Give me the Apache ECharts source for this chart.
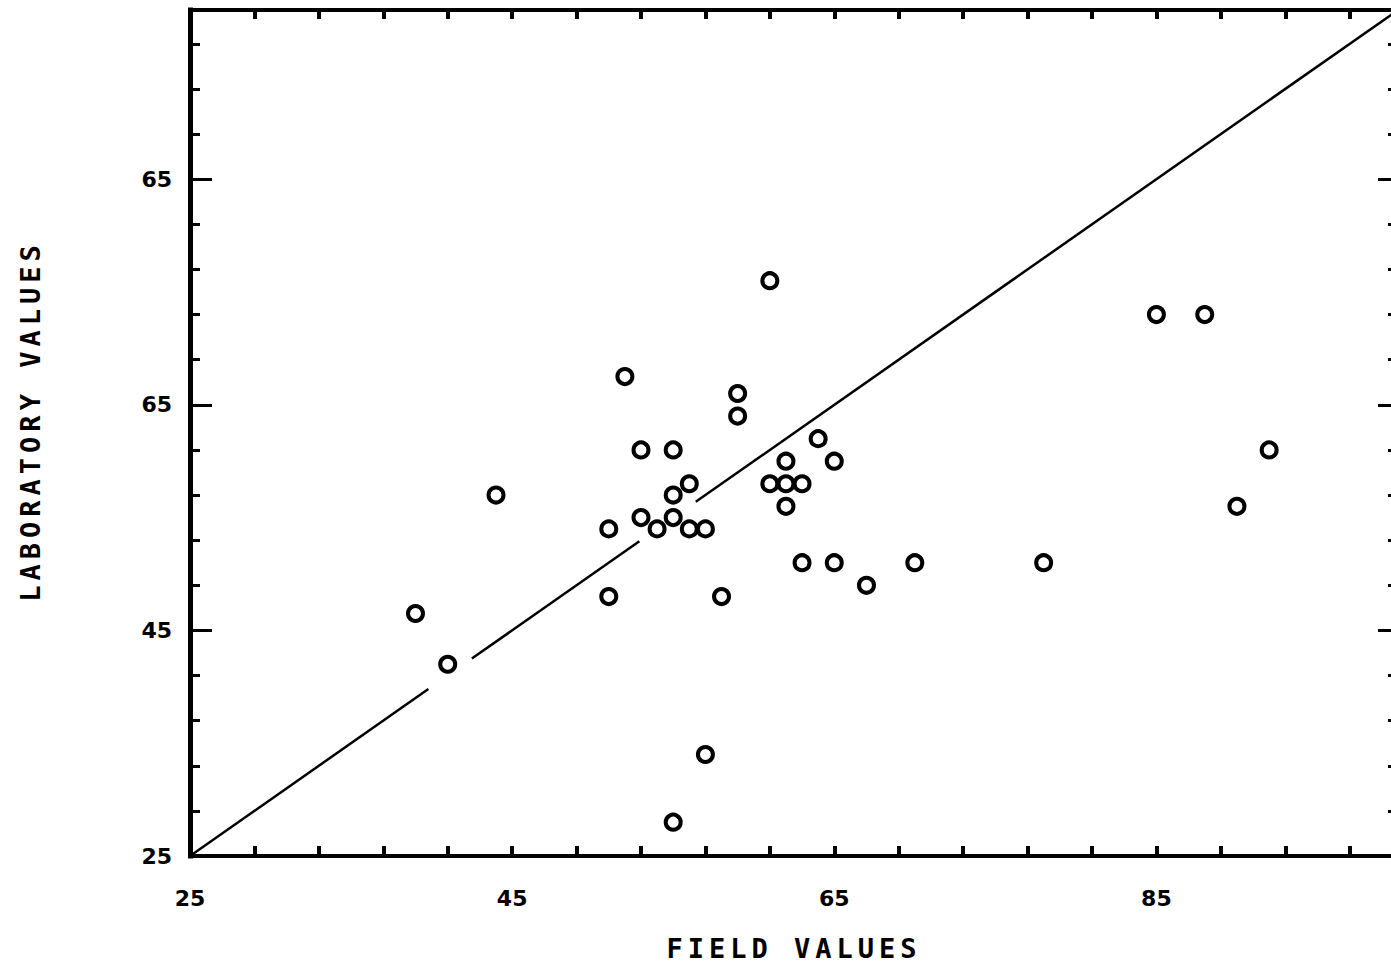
<!DOCTYPE html>
<html>
<head>
<meta charset="utf-8">
<script src="https://cdn.jsdelivr.net/npm/echarts@6/dist/echarts.min.js"></script>
<style>
  html, body { margin: 0; padding: 0; background: #fff; }
  #chart { width: 1391px; height: 972px; }
  /* plotter-style wide spacing for the axis titles */
  #chart text[style*="Mono"] { letter-spacing: 5px; }
</style>
</head>
<body>
<div id="chart"></div>
<script>
// Paired samples: field reading vs laboratory reading
const fieldValues = [39, 41, 44, 51, 51, 52, 53, 53, 54, 55, 55, 55, 55, 56, 56, 57, 57, 58, 59, 59,
                     61, 61, 62, 62, 62, 63, 63, 64, 65, 65, 67, 70, 78, 85, 88, 90, 92];
const labValues   = [46.5, 42, 57, 54, 48, 67.5, 61, 55, 54, 61, 57, 55, 28, 58, 54, 54, 34, 48, 66, 64,
                     76, 58, 60, 58, 56, 58, 51, 62, 60, 51, 49, 51, 51, 73, 73, 56, 61];

// Line of equality (lab = field), drawn in pieces with breaks around crowded markers
const equalitySegments = [[25, 39.8], [42.5, 52.9], [56.4, 100]];

// Axis ticks and their printed labels
const majorTicks = [25, 45, 65, 85];
const minorTicks = [25, 29, 33, 37, 41, 45, 49, 53, 57, 61, 65, 69, 73, 77, 81, 85, 89, 93, 97];
const xTickLabels = ['25', '45', '65', '85'];
const yTickLabels = ['25', '45', '65', '65'];

const ink = '#000';
const labelFont = { color: ink, fontFamily: 'DejaVu Sans', fontWeight: 'bold', fontSize: 22 };
const titleFont = { color: ink, fontFamily: 'DejaVu Sans Mono', fontWeight: 'bold', fontSize: 27 };

function frameAxis(position, opts) {
  return Object.assign({
    type: 'value',
    position: position,
    min: 25,
    max: 100,
    splitLine: { show: false },
    axisLine: { show: false, onZero: false },
    axisLabel: { show: false },
    axisTick: { show: false }
  }, opts);
}
const spine = w => ({ show: true, onZero: false, lineStyle: { color: ink, width: w, cap: 'square' } });
const ticks = (values, len, w) => ({ show: true, inside: true, length: len, customValues: values,
                                     lineStyle: { color: ink, width: w } });

const xAxes = [
  frameAxis('bottom', {
    axisLine: spine(4),
    axisTick: ticks(minorTicks, 10, 4),
    axisLabel: Object.assign({ show: true, customValues: majorTicks, margin: 31,
      formatter: v => xTickLabels[majorTicks.indexOf(v)] }, labelFont),
    name: 'FIELD VALUES',
    nameLocation: 'middle',
    nameGap: 79,
    nameTextStyle: titleFont
  }),
  frameAxis('top', { axisLine: spine(4), axisTick: ticks(minorTicks, 9, 4) })
];

const yAxes = [
  frameAxis('left', {
    axisLine: spine(5),
    axisTick: ticks(minorTicks, 10, 3),
    axisLabel: Object.assign({ show: true, customValues: majorTicks, margin: 18,
      formatter: v => yTickLabels[majorTicks.indexOf(v)] }, labelFont),
    name: 'LABORATORY VALUES',
    nameLocation: 'middle',
    nameGap: 146,
    nameTextStyle: Object.assign({ padding: [0, 0, 0, 24] }, titleFont)
  }),
  frameAxis('right', { axisLine: spine(4), axisTick: ticks(minorTicks, 10, 3) }),
  frameAxis('left', { axisTick: ticks(majorTicks, 22, 3) }),
  frameAxis('right', { axisTick: ticks(majorTicks, 20, 3) })
];

const lineSeries = equalitySegments.map(([a, b]) => ({
  type: 'line',
  xAxisIndex: 0,
  yAxisIndex: 0,
  data: [[a, a], [b, b]],
  showSymbol: false,
  silent: true,
  lineStyle: { color: ink, width: 2.5 },
  z: 2
}));

const pointSeries = {
  type: 'scatter',
  xAxisIndex: 0,
  yAxisIndex: 0,
  data: fieldValues.map((f, i) => [f, labValues[i]]),
  symbol: 'circle',
  symbolSize: 15,
  itemStyle: { color: 'rgba(0,0,0,0)', borderColor: ink, borderWidth: 4, opacity: 1 },
  z: 3
};

const chart = echarts.init(document.getElementById('chart'), null, { renderer: 'svg' });
chart.setOption({
  animation: false,
  backgroundColor: '#fff',
  grid: { left: 190, top: 10, width: 1208, height: 846, containLabel: false, outerBoundsMode: 'none' },
  xAxis: xAxes,
  yAxis: yAxes,
  series: lineSeries.concat([pointSeries])
});
</script>
</body>
</html>
